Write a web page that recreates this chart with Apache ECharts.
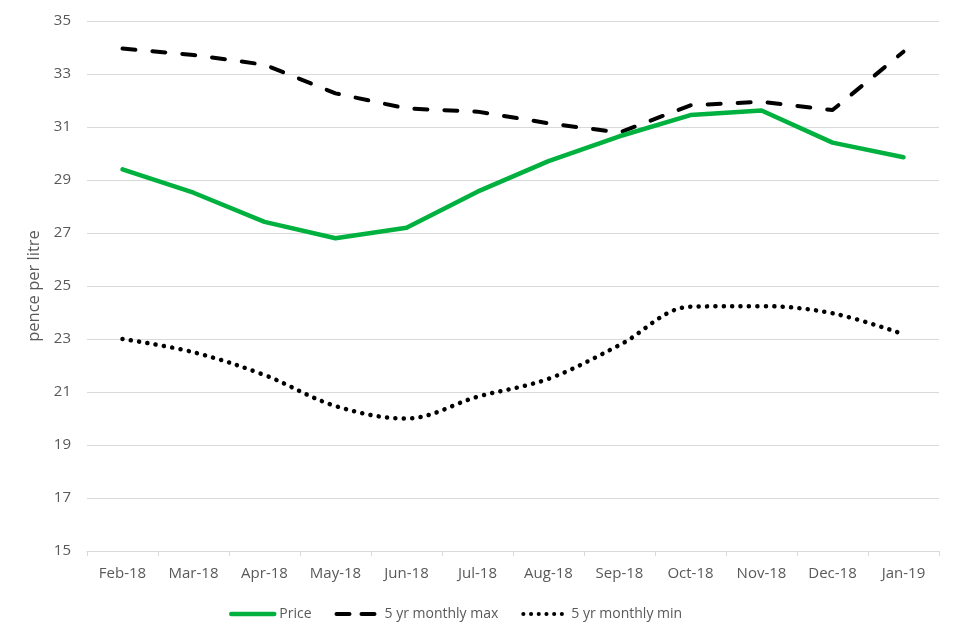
<!DOCTYPE html>
<html>
<head>
<meta charset="utf-8">
<script src="https://cdn.jsdelivr.net/npm/echarts@6/dist/echarts.min.js"></script>
<style>html,body{margin:0;padding:0;background:#fff}#chart{width:960px;height:640px}</style>
</head>
<body>
<div id="chart"></div>
<script>
const categories = ['Feb-18','Mar-18','Apr-18','May-18','Jun-18','Jul-18','Aug-18','Sep-18','Oct-18','Nov-18','Dec-18','Jan-19'];
const priceValues = [29.40, 28.52, 27.42, 26.80, 27.20, 28.56, 29.71, 30.65, 31.45, 31.62, 30.41, 29.86];
const maxValues = [33.96, 33.72, 33.35, 32.27, 31.70, 31.58, 31.14, 30.79, 31.82, 31.95, 31.64, 33.84];
const minValues = [23.00, 22.50, 21.64, 20.47, 20.00, 20.82, 21.50, 22.77, 24.22, 24.24, 23.97, 23.18];
const yTicks = { min: 15, max: 35, interval: 2 };

const font = '"Open Sans", "Liberation Sans", sans-serif';
const txt = '#595959';
const grid = '#d9d9d9';
const green = '#00b140';

const priceLine = { color: green, width: 4.5, cap: 'round', join: 'round' };
const maxLine = { color: '#000', width: 4, type: [13, 17], cap: 'round', join: 'round' };
const minLine = { color: '#000', width: 4.5, type: [0.1, 8.3], cap: 'round', join: 'round' };

const chart = echarts.init(document.getElementById('chart'));
chart.setOption({
  animation: false,
  backgroundColor: '#fff',
  grid: { left: 87, right: 21, top: 21, bottom: 89, containLabel: false },
  legend: {
    bottom: 14,
    left: 224,
    itemWidth: 43,
    itemHeight: 10,
    itemGap: 23,
    itemStyle: { opacity: 0 },
    textStyle: { color: txt, fontSize: 14, fontFamily: font },
    data: [
      { name: 'Price', lineStyle: priceLine },
      { name: '5 yr monthly max', lineStyle: { color: '#000', width: 4, type: [13, 12], cap: 'round' } },
      { name: '5 yr monthly min', lineStyle: { color: '#000', width: 4, type: [0.1, 7.6], cap: 'round' } }
    ]
  },
  xAxis: {
    type: 'category',
    data: categories,
    boundaryGap: true,
    axisLine: { lineStyle: { color: grid, width: 1 } },
    axisTick: { show: true, length: 5, lineStyle: { color: grid } },
    axisLabel: { color: txt, fontSize: 15, fontFamily: font, margin: 15 }
  },
  yAxis: {
    type: 'value',
    min: yTicks.min, max: yTicks.max, interval: yTicks.interval,
    name: 'pence per litre',
    nameLocation: 'middle',
    nameGap: 35,
    nameRotate: 90,
    nameTextStyle: { color: txt, fontSize: 16.5, fontFamily: font },
    axisLine: { show: false },
    axisTick: { show: false },
    axisLabel: { color: txt, fontSize: 15, fontFamily: font, margin: 16 },
    splitLine: { lineStyle: { color: grid, width: 1 } }
  },
  series: [
    {
      name: 'Price', type: 'line', data: priceValues, symbol: 'none',
      itemStyle: { color: green }, lineStyle: priceLine, z: 3
    },
    {
      name: '5 yr monthly max', type: 'line', data: maxValues, symbol: 'none',
      itemStyle: { color: '#000' }, lineStyle: maxLine, z: 2
    },
    {
      name: '5 yr monthly min', type: 'line', data: minValues, symbol: 'none', smooth: 0.35,
      itemStyle: { color: '#000' }, lineStyle: minLine, z: 2
    }
  ]
});
</script>
</body>
</html>
